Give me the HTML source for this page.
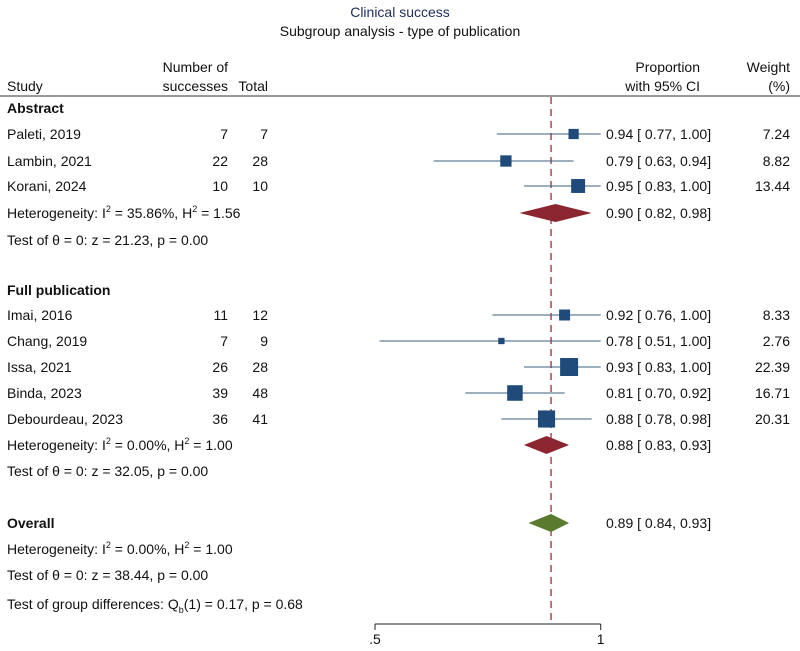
<!DOCTYPE html>
<html><head><meta charset="utf-8"><style>
body{margin:0;background:#fff;width:800px;height:646px;overflow:hidden}
svg text{font-family:"Liberation Sans",Arial,sans-serif;font-size:14px;fill:#111}
</style></head><body>
<svg id="c" width="800" height="646">
<text x="400" y="17" text-anchor="middle" style="fill:#1f2d5c">Clinical success</text>
<text x="400" y="36" text-anchor="middle">Subgroup analysis - type of publication</text>
<text x="7" y="91">Study</text>
<text x="228" y="72" text-anchor="end">Number of</text>
<text x="228" y="91" text-anchor="end">successes</text>
<text x="268" y="91" text-anchor="end">Total</text>
<text x="700" y="72" text-anchor="end">Proportion</text>
<text x="700" y="91" text-anchor="end">with 95% CI</text>
<text x="790" y="72" text-anchor="end">Weight</text>
<text x="790" y="91" text-anchor="end">(%)</text>
<line x1="0" y1="96" x2="800" y2="96" stroke="#333" stroke-width="1"/>
<g id="marks"></g>
</svg>
<script>
const studies=["Paleti, 2019","Lambin, 2021","Korani, 2024","Imai, 2016","Chang, 2019","Issa, 2021","Binda, 2023","Debourdeau, 2023"];
const successes=[7,22,10,11,7,26,39,36];
const totals=[7,28,10,12,9,28,48,41];
const est=[0.94,0.79,0.95,0.92,0.78,0.93,0.81,0.88];
const lo=[0.77,0.63,0.83,0.76,0.51,0.83,0.70,0.78];
const hi=[1.00,0.94,1.00,1.00,1.00,1.00,0.92,0.98];
const weights=[7.24,8.82,13.44,8.33,2.76,22.39,16.71,20.31];
const rowY=[134,161,186,315,341,367,393,419];
const pooledLabels=["Abstract","Full publication","Overall"];
const pooledEst=[0.90,0.88,0.89];
const pooledLo=[0.82,0.83,0.84];
const pooledHi=[0.98,0.93,0.93];
const pooledY=[213,445,523];
const pooledColor=["#8b2630","#8b2630","#5a7a2e"];
const ticks=[0.5,1];
const tickLabels=[".5","1"];
const overall=0.89;
const x=v=>375+(v-0.5)*451.4;
const g=document.getElementById('marks');
const NS="http://www.w3.org/2000/svg";
function mk(tag,a,txt){const e=document.createElementNS(NS,tag);for(const k in a)e.setAttribute(k,a[k]);if(txt!=null)e.textContent=txt;g.appendChild(e);return e;}
let e=mk('line',{x1:x(overall),x2:x(overall),y1:97,y2:624,stroke:'#a3283f','stroke-width':1.3,'stroke-dasharray':'7,5'});


const fmt=v=>v.toFixed(2);
const ci=(a,l,h)=>fmt(a)+" [ "+fmt(l)+",  "+fmt(h)+"]";
studies.forEach((s,i)=>{
 const y=rowY[i];
 e=mk('text',{x:7,y:y+5},s);
 e=mk('text',{x:228,y:y+5,'text-anchor':'end'},successes[i]);
 e=mk('text',{x:268,y:y+5,'text-anchor':'end'},totals[i]);
 e=mk('line',{x1:x(lo[i]),x2:x(hi[i]),y1:y,y2:y,stroke:'#3d5f7e','stroke-width':1.1});
 const sd=3.8*Math.sqrt(weights[i]);
 e=mk('rect',{x:x(est[i])-sd/2,y:y-sd/2,width:sd,height:sd,fill:'#1f4a7a'});
 e=mk('text',{x:606,y:y+5},ci(est[i],lo[i],hi[i]));
 e=mk('text',{x:790,y:y+5,'text-anchor':'end'},fmt(weights[i]));
});
pooledLabels.forEach((s,i)=>{
 const y=pooledY[i];
 const d=`M${x(pooledLo[i])},${y} L${x(pooledEst[i])},${y-9} L${x(pooledHi[i])},${y} L${x(pooledEst[i])},${y+9} Z`;
 e=mk('path',{d:d,fill:pooledColor[i]});
 e=mk('text',{x:606,y:y+5},ci(pooledEst[i],pooledLo[i],pooledHi[i]));
});
const statics=[
 [7,113,"<tspan font-weight='bold'>Abstract</tspan>"],
 [7,218,"Heterogeneity: I<tspan dy='-6' font-size='9'>2</tspan><tspan dy='6'> = 35.86%, H</tspan><tspan dy='-6' font-size='9'>2</tspan><tspan dy='6'> = 1.56</tspan>"],
 [7,245,"Test of θ = 0: z = 21.23, p = 0.00"],
 [7,295,"<tspan font-weight='bold'>Full publication</tspan>"],
 [7,450,"Heterogeneity: I<tspan dy='-6' font-size='9'>2</tspan><tspan dy='6'> = 0.00%, H</tspan><tspan dy='-6' font-size='9'>2</tspan><tspan dy='6'> = 1.00</tspan>"],
 [7,476,"Test of θ = 0: z = 32.05, p = 0.00"],
 [7,528,"<tspan font-weight='bold'>Overall</tspan>"],
 [7,554,"Heterogeneity: I<tspan dy='-6' font-size='9'>2</tspan><tspan dy='6'> = 0.00%, H</tspan><tspan dy='-6' font-size='9'>2</tspan><tspan dy='6'> = 1.00</tspan>"],
 [7,580,"Test of θ = 0: z = 38.44, p = 0.00"],
 [7,609,"Test of group differences: Q<tspan dy='4' font-size='9'>b</tspan><tspan dy='-4'>(1) = 0.17, p = 0.68</tspan>"]
];
statics.forEach(s=>{e=mk('text',{x:s[0],y:s[1]});e.innerHTML=s[2];});
e=mk('line',{x1:x(ticks[0]),x2:x(ticks[ticks.length-1]),y1:624,y2:624,stroke:'#222','stroke-width':1});


ticks.forEach((t,i)=>{
 e=mk('line',{x1:x(t),x2:x(t),y1:624,y2:630,stroke:'#222'});
 e=mk('text',{x:x(t),y:644,'text-anchor':'middle'},tickLabels[i]);
});
</script>
</body></html>
